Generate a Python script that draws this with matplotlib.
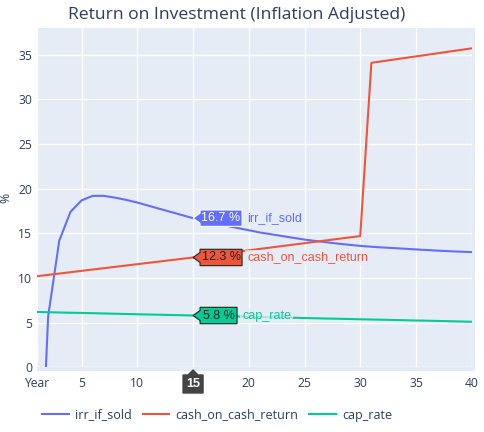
import matplotlib
matplotlib.use("Agg")
import matplotlib.pyplot as plt
from matplotlib.patches import Polygon, Rectangle
from matplotlib.transforms import IdentityTransform

plt.rcParams["font.family"] = ["Open Sans", "DejaVu Sans"]
HOVER_FONT = ["Liberation Sans", "DejaVu Sans"]

# values (years 1..40)
years = list(range(1, 41))
irr_if_sold = [-22.8, 5.7, 14.2, 17.4, 18.7, 19.2, 19.2, 19.0, 18.75, 18.45,
               18.1, 17.75, 17.4, 17.05, 16.7, 16.4, 16.1, 15.85, 15.6, 15.35,
               15.1, 14.9, 14.7, 14.5, 14.3, 14.15, 14.0, 13.85, 13.72, 13.6,
               13.5, 13.42, 13.35, 13.28, 13.2, 13.13, 13.06, 13.0, 12.95, 12.9]
cash_on_cash_return = [10.2, 10.35, 10.5, 10.65, 10.8, 10.95, 11.1, 11.25, 11.4, 11.55,
                       11.7, 11.85, 12.0, 12.15, 12.3, 12.46, 12.62, 12.78, 12.94, 13.1,
                       13.26, 13.42, 13.58, 13.74, 13.9, 14.06, 14.22, 14.38, 14.54, 14.7,
                       34.1, 34.28, 34.46, 34.64, 34.82, 35.0, 35.18, 35.36, 35.54, 35.72]
cap_rate = [6.2, 6.17, 6.14, 6.11, 6.09, 6.06, 6.03, 6.0, 5.97, 5.94,
            5.91, 5.89, 5.86, 5.83, 5.8, 5.77, 5.74, 5.71, 5.69, 5.66,
            5.63, 5.6, 5.57, 5.55, 5.52, 5.49, 5.46, 5.44, 5.41, 5.38,
            5.35, 5.33, 5.3, 5.27, 5.24, 5.22, 5.19, 5.16, 5.13, 5.1]
series_names = ["irr_if_sold", "cash_on_cash_return", "cap_rate"]
colors = ["#636efa", "#EF553B", "#00cc96"]
xtick_vals = [1, 5, 10, 15, 20, 25, 30, 35, 40]
xtick_labels = ["Year", "5", "10", "15", "20", "25", "30", "35", "40"]
ytick_vals = [0, 5, 10, 15, 20, 25, 30, 35]
hover_year = 15

W, H = 485, 432
BG = "#E5ECF6"
fig = plt.figure(figsize=(W / 100, H / 100), dpi=100)
# plot area in pixels (left, right, top, bottom)
L, R, T, B = 37, 471.7, 28, 367.3
ax = fig.add_axes([L / W, 1 - B / H, (R - L) / W, (B - T) / H])
ax.set_facecolor(BG)
for s in ax.spines.values():
    s.set_visible(False)
# small padding strip around the plot area like the reference
fig.add_artist(Rectangle((L / W, 1 - 371 / H), (474.5 - L) / W, (371 - T) / H,
                         transform=fig.transFigure, facecolor=BG, edgecolor="none",
                         zorder=-1))

all_series = [irr_if_sold, cash_on_cash_return, cap_rate]
for vals, name, c in zip(all_series, series_names, colors):
    ax.plot(years, vals, color=c, lw=1.5, label=name, zorder=3)

ax.set_xlim(1, 40)
ax.set_ylim(0, 38)
ax.set_xticks(xtick_vals, xtick_labels)
ax.set_yticks(ytick_vals)
ax.grid(color="white", lw=1, zorder=0)
ax.set_axisbelow(True)
ax.tick_params(length=0, labelsize=8.7, labelcolor="#2a3f5f")
ax.tick_params(axis="x", pad=7)
ax.tick_params(axis="y", pad=3.6)

fig.text(237 / W, 1 - 15 / H, "Return on Investment (Inflation Adjusted)",
         ha="center", va="center", fontsize=12.6, color="#2a3f5f")
fig.text(6 / W, 1 - 198 / H, "%", rotation=90, ha="center", va="center",
         fontsize=8.7, color="#2a3f5f")

fig.legend(loc="center left", bbox_to_anchor=(42 / W, 1 - 415 / H), ncol=3,
           frameon=False, fontsize=9.0, handlelength=2.15, handletextpad=0.5,
           columnspacing=0.85, borderpad=0, borderaxespad=0,
           labelcolor="#2a3f5f")

# hover labels at the hovered year
idx = years.index(hover_year)
box_w = [42, 42, 37]
text_cols = ["white", "#222222", "#222222"]
ident = IdentityTransform()
for vals, name, c, bw, tc in zip(all_series, series_names, colors, box_w, text_cols):
    px, py = ax.transData.transform((hover_year, vals[idx]))
    a, h = 7, 8.2
    pts = [(px, py), (px + a, py + 5), (px + a, py + h), (px + a + bw, py + h),
           (px + a + bw, py - h), (px + a, py - h), (px + a, py - 5)]
    fig.add_artist(Polygon(pts, closed=True, facecolor=c, edgecolor=tc, lw=0.8,
                           transform=ident, zorder=10))
    fig.text(px + a + bw / 2, py, f"{vals[idx]:.1f} %", transform=ident,
             ha="center", va="center", fontsize=9.0, color=tc, zorder=11,
             family=HOVER_FONT)
    fig.text(px + a + bw + 5, py, name, transform=ident, ha="left", va="center",
             fontsize=9.0, color=c, zorder=11, family=HOVER_FONT,
             bbox=dict(boxstyle="square,pad=0.15", facecolor=BG, alpha=0.75,
                       edgecolor="none"))

# x hover label
px, _ = ax.transData.transform((hover_year, 0))
top = H - 370
pts = [(px, top), (px + 5, top - 5), (px + 10, top - 5), (px + 10, top - 23),
       (px - 10, top - 23), (px - 10, top - 5), (px - 5, top - 5)]
fig.add_artist(Polygon(pts, closed=True, facecolor="#444444", edgecolor="#444444",
                       transform=ident, zorder=10))
fig.text(px, top - 14, str(hover_year), transform=ident, ha="center", va="center",
         fontsize=9.2, color="white", fontweight="bold", zorder=11,
         family=HOVER_FONT)

fig.savefig("out.png", dpi=100)
